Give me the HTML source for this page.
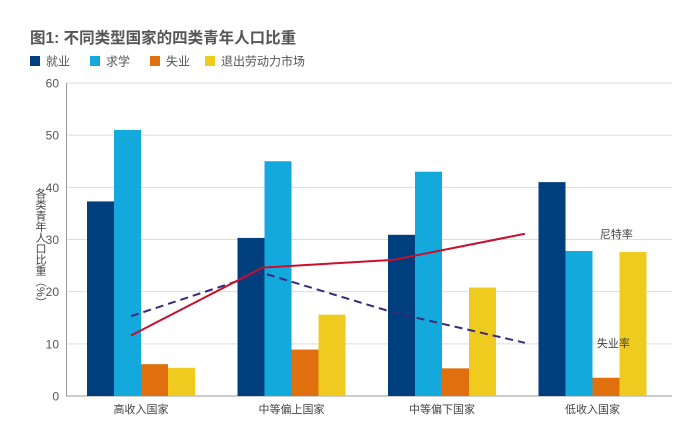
<!DOCTYPE html>
<html><head><meta charset="utf-8"><style>
body{margin:0;background:#fff;font-family:"Liberation Sans","Noto Sans CJK SC",sans-serif;}
</style></head><body>
<svg width="678" height="422" xmlns="http://www.w3.org/2000/svg" font-family="Liberation Sans, Noto Sans CJK SC, sans-serif">
<text x="30" y="43" font-size="15.5" font-weight="bold" fill="#555">图1: 不同类型国家的四类青年人口比重</text>
<g id="legend"></g>
<g id="grid"></g><g id="bars"></g><g id="lines"></g><g id="labels"></g>
</svg>
<script>
const categories=["高收入国家","中等偏上国家","中等偏下国家","低收入国家"];
const seriesNames=["就业","求学","失业","退出劳动力市场"];
const employed=[37.3,51,6.1,5.4];
const employedVals=[37.3,30.3,30.9,41];
const studyVals=[51,45,43,27.8];
const unempVals=[6.1,8.9,5.3,3.5];
const outVals=[5.4,15.6,20.8,27.6];
const neetRate=[11.6,24.6,26.1,31.1];
const unempRate=[15.3,23.6,16,10.2];
const yTicks=[0,10,20,30,40,60,50];
const colors=["#003f7d","#14a9dc","#e0700e","#f0cb1f"];
const NS="http://www.w3.org/2000/svg";
const svg=document.querySelector("svg");
function mk(t,a,p){const e=document.createElementNS(NS,t);for(const k in a)e.setAttribute(k,a[k]);(p||svg).appendChild(e);return e;}
const y=v=>396-v*(313/60);
const gx=i=>87+i*150.5;
const lx=i=>131+i*131.3;
const grid=document.getElementById("grid");
yTicks.forEach(t=>{
 const l=mk("line",{x1:66,x2:672,y1:y(t),y2:y(t),stroke:t===0?"#999":"#ddd","stroke-width":1},grid);
 
 
 const tx=mk("text",{x:59,y:y(t)+4.5,"text-anchor":"end","font-size":12,fill:"#555"},grid);
 tx.textContent=t;
 
 
});
const ax=mk("line",{x1:66.5,x2:66.5,y1:83,y2:396,stroke:"#999"},grid);


const yt=mk("text",{x:40,y:188,"font-size":11,fill:"#444","writing-mode":"tb","letter-spacing":"0"},grid);
yt.textContent="各类青年人口比重（%）";


const bars=document.getElementById("bars");
const allVals=[employedVals,studyVals,unempVals,outVals];
categories.forEach((c,i)=>{
 allVals.forEach((arr,s)=>{
  const r=mk("rect",{x:gx(i)+s*27,y:y(arr[i]),width:27,height:396-y(arr[i]),fill:colors[s]},bars);
  
  
 });
 const t=mk("text",{x:gx(i)+54,y:413,"text-anchor":"middle","font-size":11,fill:"#444"},bars);
 t.textContent=c;
 
 
});
const lines=document.getElementById("lines");
const p1=mk("polyline",{points:unempRate.map((v,i)=>lx(i)+","+y(v)).join(" "),fill:"none",stroke:"#3b2a7c","stroke-width":2,"stroke-dasharray":"8,5"},lines);


const p2=mk("polyline",{points:neetRate.map((v,i)=>lx(i)+","+y(v)).join(" "),fill:"none",stroke:"#c8102e","stroke-width":2},lines);


const l1=mk("text",{x:lx(3)+75,y:y(neetRate[3])+4,"font-size":11,fill:"#444"},lines);
l1.textContent="尼特率";


const l2=mk("text",{x:lx(3)+72,y:y(unempRate[3])+4,"font-size":11,fill:"#444"},lines);
l2.textContent="失业率";


const leg=document.getElementById("legend");
const lxs=[30,90,150,205];
seriesNames.forEach((n,i)=>{
 const r=mk("rect",{x:lxs[i],y:56,width:10,height:10,fill:colors[i]},leg);
 
 
 const t=mk("text",{x:lxs[i]+16,y:65.5,"font-size":12,fill:"#555"},leg);
 t.textContent=n;
 
 
});
</script>
</body></html>
